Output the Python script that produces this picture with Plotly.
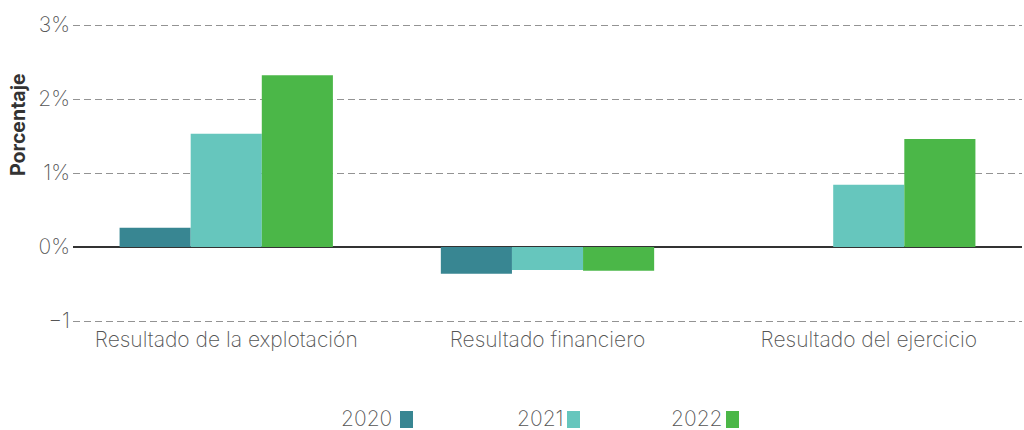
import plotly.graph_objects as go

categories = ["Resultado de la explotación", "Resultado financiero", "Resultado del ejercicio"]
years = ["2020", "2021", "2022"]
values_2020 = [0.26, -0.36, 0.0]
values_2021 = [1.53, -0.31, 0.84]
values_2022 = [2.32, -0.32, 1.46]
colors = ["#388692", "#66C6BD", "#4BB748"]
tick_vals = [-1, 0, 1, 2, 3]
tick_text = ["−1", "0%", "1%", "2%", "3%"]

FONT = "Inter"
TXT = "#555555"
WT = 200
FS = 21

fig = go.Figure()
for y, vals, c in zip(years, [values_2020, values_2021, values_2022], colors):
    fig.add_trace(go.Bar(x=list(range(len(categories))), y=vals, name=y,
                         marker=dict(color=c, line=dict(width=0)),
                         showlegend=False))

# plot area in pixels
L, R, T, B = 73, 1022, 22, 324
W, H = R - L, B - T

def px(x):
    return (x - L) / W

def py(y):
    return (B - y) / H

fig.update_layout(
    width=1024, height=430,
    margin=dict(l=L, r=1024 - R, t=T, b=430 - B, pad=0),
    paper_bgcolor="white", plot_bgcolor="white",
    barmode="group", bargap=0.336, bargroupgap=0,
    font=dict(family=FONT, color=TXT, size=FS, weight=WT),
    xaxis=dict(
        range=[-0.477, 2.477],
        tickvals=list(range(len(categories))), ticktext=categories,
        showgrid=False, zeroline=False, showline=False, ticks="",
        tickfont=dict(family=FONT, size=FS, color=TXT, weight=WT),
        ticklabelstandoff=1,
    ),
    yaxis=dict(
        range=[-1.0405, 3.0405], tickvals=tick_vals, ticktext=tick_text,
        showgrid=True, gridcolor="#939393", griddash="7px,4px", gridwidth=1,
        zeroline=True, zerolinecolor="#333333", zerolinewidth=2,
        showline=False, ticks="",
        tickfont=dict(family=FONT, size=FS, color=TXT, weight=WT),
        ticklabelstandoff=2,
    ),
)

# y axis title
fig.add_annotation(text="<b>Porcentaje</b>", xref="paper", yref="paper",
                   x=px(18), y=py(125), textangle=-90, showarrow=False,
                   font=dict(family=FONT, size=19.5, color="#333333", weight=700),
                   xanchor="center", yanchor="middle")

# legend (text then swatch)
legend_items = [(394, 400), (566, 567), (725, 726)]
for (tx, sx), y, c in zip(legend_items, years, colors):
    fig.add_annotation(text=y, xref="paper", yref="paper", x=px(tx), y=py(418),
                       xanchor="right", yanchor="middle", showarrow=False,
                       font=dict(family=FONT, size=FS, color=TXT, weight=WT))
    fig.add_shape(type="rect", xref="paper", yref="paper",
                  x0=px(sx), x1=px(sx + 13), y0=py(428), y1=py(411),
                  fillcolor=c, line=dict(width=0))

fig.write_html("out.html", config={"displayModeBar": False},
               post_script="document.body.style.margin='0px';")
